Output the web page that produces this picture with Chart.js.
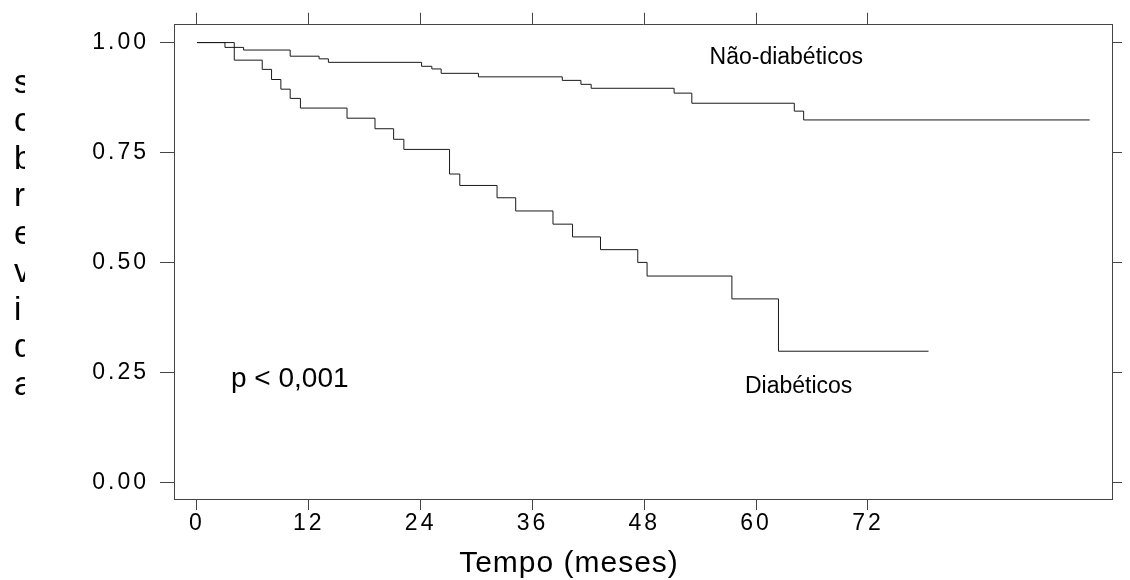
<!DOCTYPE html>
<html>
<head>
<meta charset="utf-8">
<script src="https://cdn.jsdelivr.net/npm/chart.js@4/dist/chart.umd.min.js"></script>
<style>
  html, body { margin: 0; padding: 0; background: #fff; }
  canvas { display: block; }
</style>
</head>
<body>
<canvas id="km" width="1130" height="580"></canvas>
<script>
// Kaplan-Meier survival, time in months
var tempoNaoDiab = [0, 3.0, 5.0, 10.0, 13.1, 14.1, 24.1, 25.2, 26.2, 30.2, 39.2, 41.2, 42.3, 51.2, 53.1, 64.1, 65.1, 95.8];
var sobrevidaNaoDiab = [1.00, 0.989, 0.983, 0.969, 0.963, 0.955, 0.946, 0.940, 0.930, 0.922, 0.914, 0.905, 0.896, 0.885, 0.862, 0.844, 0.824, 0.824];

var tempoDiab = [0, 4.0, 7.0, 8.0, 9.0, 10.0, 11.1, 16.1, 19.1, 21.1, 22.2, 27.1, 28.2, 32.2, 34.2, 38.2, 40.3, 43.3, 47.3, 48.3, 57.4, 62.4, 78.5];
var sobrevidaDiab = [1.00, 0.960, 0.939, 0.916, 0.894, 0.873, 0.851, 0.828, 0.804, 0.780, 0.757, 0.701, 0.675, 0.647, 0.617, 0.587, 0.558, 0.529, 0.500, 0.469, 0.417, 0.298, 0.298];

var tempoTicks = [0, 12, 24, 36, 48, 60, 72];
var sobrevidaTicks = [0, 0.25, 0.5, 0.75, 1];

var FONT = '"Liberation Sans", Arial, Helvetica, sans-serif';
var INK = '#1a1a1a';
var FRAME = '#444';

function pontos(t, s) {
  return t.map(function (v, i) { return { x: v, y: s[i] }; });
}

function setTicks(values) {
  return function (scale) {
    scale.ticks = values.map(function (v) { return { value: v }; });
  };
}

function fixSize(prop, size) {
  return function (scale) { scale[prop] = size; };
}

// wide-set tick numbers; everything else drawn without extra spacing
var espacamento = {
  id: 'espacamento',
  beforeDraw: function (chart) { chart.ctx.letterSpacing = '3px'; },
  beforeDatasetsDraw: function (chart) { chart.ctx.letterSpacing = '0px'; }
};

var rotulos = {
  id: 'rotulos',
  afterDraw: function (chart) {
    var ctx = chart.ctx;
    var x = chart.scales.x, y = chart.scales.y;
    ctx.save();
    ctx.fillStyle = '#000';
    ctx.textBaseline = 'alphabetic';
    ctx.textAlign = 'left';

    ctx.font = '23px ' + FONT;
    ctx.fillText('Não-diabéticos', x.getPixelForValue(55.0), y.getPixelForValue(0.951));
    ctx.fillText('Diabéticos', x.getPixelForValue(58.8), y.getPixelForValue(0.204));

    ctx.font = '28px ' + FONT;
    ctx.fillText('p < 0,001', x.getPixelForValue(3.65), y.getPixelForValue(0.2175));

    // axis title
    ctx.letterSpacing = '1px';
    ctx.font = '30px ' + FONT;
    ctx.textAlign = 'center';
    ctx.fillText('Tempo (meses)', 569, 572);
    ctx.letterSpacing = '0px';

    // stacked y title, cut off on its right side
    ctx.beginPath();
    ctx.rect(0, 0, 25, chart.height);
    ctx.clip();
    ctx.font = '33px ' + FONT;
    ctx.textAlign = 'left';
    var letras = 'sobrevida'.split('');
    letras.forEach(function (c, i) {
      ctx.fillText(c, 14, 93 + i * 37.75);
    });
    ctx.restore();
  }
};

var gridBase = {
  drawOnChartArea: false,
  drawTicks: true,
  color: FRAME,
  lineWidth: 1
};

new Chart(document.getElementById('km'), {
  type: 'line',
  data: {
    datasets: [
      {
        label: 'Não-diabéticos',
        data: pontos(tempoNaoDiab, sobrevidaNaoDiab),
        stepped: true,
        borderColor: INK,
        borderWidth: 1,
        pointRadius: 0,
        fill: false,
        xAxisID: 'x',
        yAxisID: 'y'
      },
      {
        label: 'Diabéticos',
        data: pontos(tempoDiab, sobrevidaDiab),
        stepped: true,
        borderColor: INK,
        borderWidth: 1,
        pointRadius: 0,
        fill: false,
        xAxisID: 'x',
        yAxisID: 'y'
      }
    ]
  },
  options: {
    responsive: false,
    animation: false,
    layout: { padding: 0 },
    plugins: {
      legend: { display: false },
      tooltip: { enabled: false }
    },
    scales: {
      x: {
        type: 'linear',
        position: 'bottom',
        min: -2.468,
        max: 98.19,
        afterBuildTicks: setTicks(tempoTicks),
        afterFit: fixSize('height', 81),
        grid: Object.assign({}, gridBase, { tickLength: 11 }),
        border: { display: true, color: FRAME, width: 1 },
        ticks: {
          color: '#000',
          padding: 0,
          maxRotation: 0,
          autoSkip: false,
          font: { family: FONT, size: 23 },
          callback: function (v) { return String(v); }
        }
      },
      xTop: {
        type: 'linear',
        position: 'top',
        min: -2.468,
        max: 98.19,
        afterBuildTicks: setTicks(tempoTicks),
        afterFit: fixSize('height', 18),
        grid: Object.assign({}, gridBase, { tickLength: 12 }),
        border: { display: true, color: FRAME, width: 1 },
        ticks: { display: false }
      },
      y: {
        type: 'linear',
        position: 'left',
        min: -0.0381,
        max: 1.0404,
        afterBuildTicks: setTicks(sobrevidaTicks),
        afterFit: fixSize('width', 174),
        grid: Object.assign({}, gridBase, { tickLength: 14 }),
        border: { display: true, color: FRAME, width: 1 },
        ticks: {
          color: '#000',
          padding: 11,
          autoSkip: false,
          font: { family: FONT, size: 23 },
          callback: function (v) { return Number(v).toFixed(2); }
        }
      },
      yRight: {
        type: 'linear',
        position: 'right',
        min: -0.0381,
        max: 1.0404,
        afterBuildTicks: setTicks(sobrevidaTicks),
        afterFit: fixSize('width', 18),
        grid: Object.assign({}, gridBase, { tickLength: 10 }),
        border: { display: true, color: FRAME, width: 1 },
        ticks: { display: false }
      }
    }
  },
  plugins: [espacamento, rotulos]
});
</script>
</body>
</html>
